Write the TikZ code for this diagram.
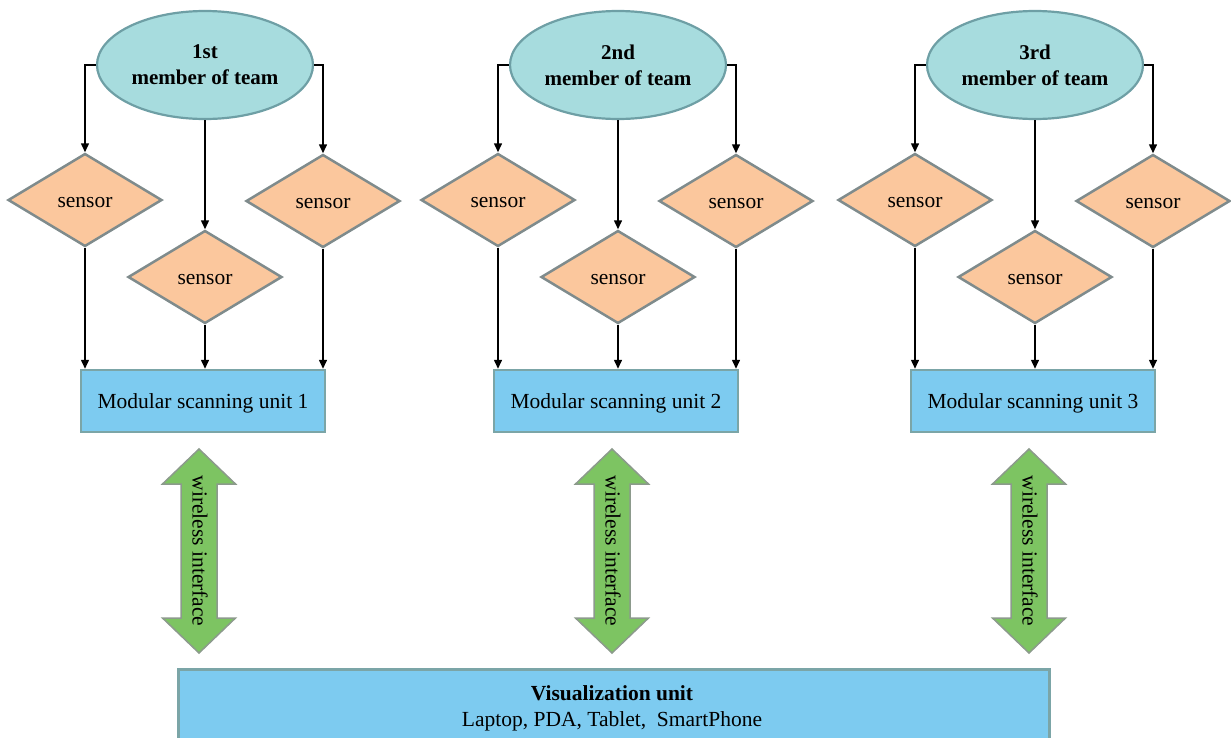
\documentclass[tikz,border=0pt]{standalone}
\usepackage{fontspec}
\setmainfont{Liberation Serif}
\usetikzlibrary{shapes.geometric,arrows.meta}
\definecolor{ellfill}{HTML}{A7DCDE}
\definecolor{elldraw}{HTML}{6E9FA5}
\definecolor{diafill}{HTML}{FBC79D}
\definecolor{diadraw}{HTML}{7F8B8C}
\definecolor{recfill}{HTML}{7DCBF0}
\definecolor{recdraw}{HTML}{7BA5A7}
\definecolor{grnfill}{HTML}{7DC462}
\definecolor{grndraw}{HTML}{8C9A8C}
\tikzset{
  big/.style={font=\rmfamily\fontsize{21.5}{26}\selectfont},
  member/.style={ellipse, fill=ellfill, draw=elldraw, line width=2.2pt, minimum width=216pt, minimum height=108pt, inner sep=0pt, align=center, font=\rmfamily\fontsize{21}{26}\selectfont\bfseries},
  sensorbox/.style={diamond, fill=diafill, draw=diadraw, line width=2.5pt, minimum width=154pt, minimum height=93pt, inner sep=0pt, text height=15pt, text depth=0pt, big},
  unitbox/.style={rectangle, fill=recfill, draw=recdraw, line width=2.5pt, minimum width=244pt, minimum height=62pt, inner sep=0pt, text depth=0pt, big},
  conn/.style={line width=1.5pt, -{Triangle[length=9pt,width=8pt]}},
  wireless/.style={fill=grnfill, draw=grndraw, line width=1.5pt, line join=miter},
}
\begin{document}
\begin{tikzpicture}[x=1pt,y=-1pt]
\useasboundingbox (0,0) rectangle (1231,737);
\foreach \i/\dx/\lab in {1/0/1st, 2/413/2nd, 3/830/3rd}{
  \begin{scope}[xshift=\dx pt]
    \node[member] (e\i) at (205,65) {\lab\\member of team};
    \node[sensorbox] (sl\i) at (85,200) {sensor};
    \node[sensorbox] (sm\i) at (205,277) {sensor};
    \node[sensorbox] (sr\i) at (323,201) {sensor};
    \node[unitbox] (u\i) at (203,401) {Modular scanning unit \i};
    \draw[conn] (e\i.west) -| (sl\i.north);
    \draw[conn] (e\i.east) -| (sr\i.north);
    \draw[conn] (e\i.south) -- (sm\i.north);
    \draw[conn] (sl\i.south) -- (sl\i.south |- u\i.north);
    \draw[conn] (sm\i.south) -- (sm\i.south |- u\i.north);
    \draw[conn] (sr\i.south) -- (sr\i.south |- u\i.north);
    \coordinate (w\i) at (200,551);
    \draw[wireless] (199,449) -- (235.5,484) -- (217,484) -- (217,618) -- (235.5,618) -- (199,653) -- (162.5,618) -- (181,618) -- (181,484) -- (162.5,484) -- cycle;
    \node[big, rotate=-90] (wt\i) at (w\i) {wireless interface};
  \end{scope}
}
\node[rectangle, fill=recfill, draw=recdraw, line width=2.5pt, minimum width=871pt, minimum height=80pt, inner sep=0pt, anchor=north west] (vis) at (177,668) {};
\node[align=center, big] (vt) at (612,708) {\textbf{Visualization unit}\\Laptop, PDA, Tablet,\ \ SmartPhone};
\end{tikzpicture}
\end{document}
